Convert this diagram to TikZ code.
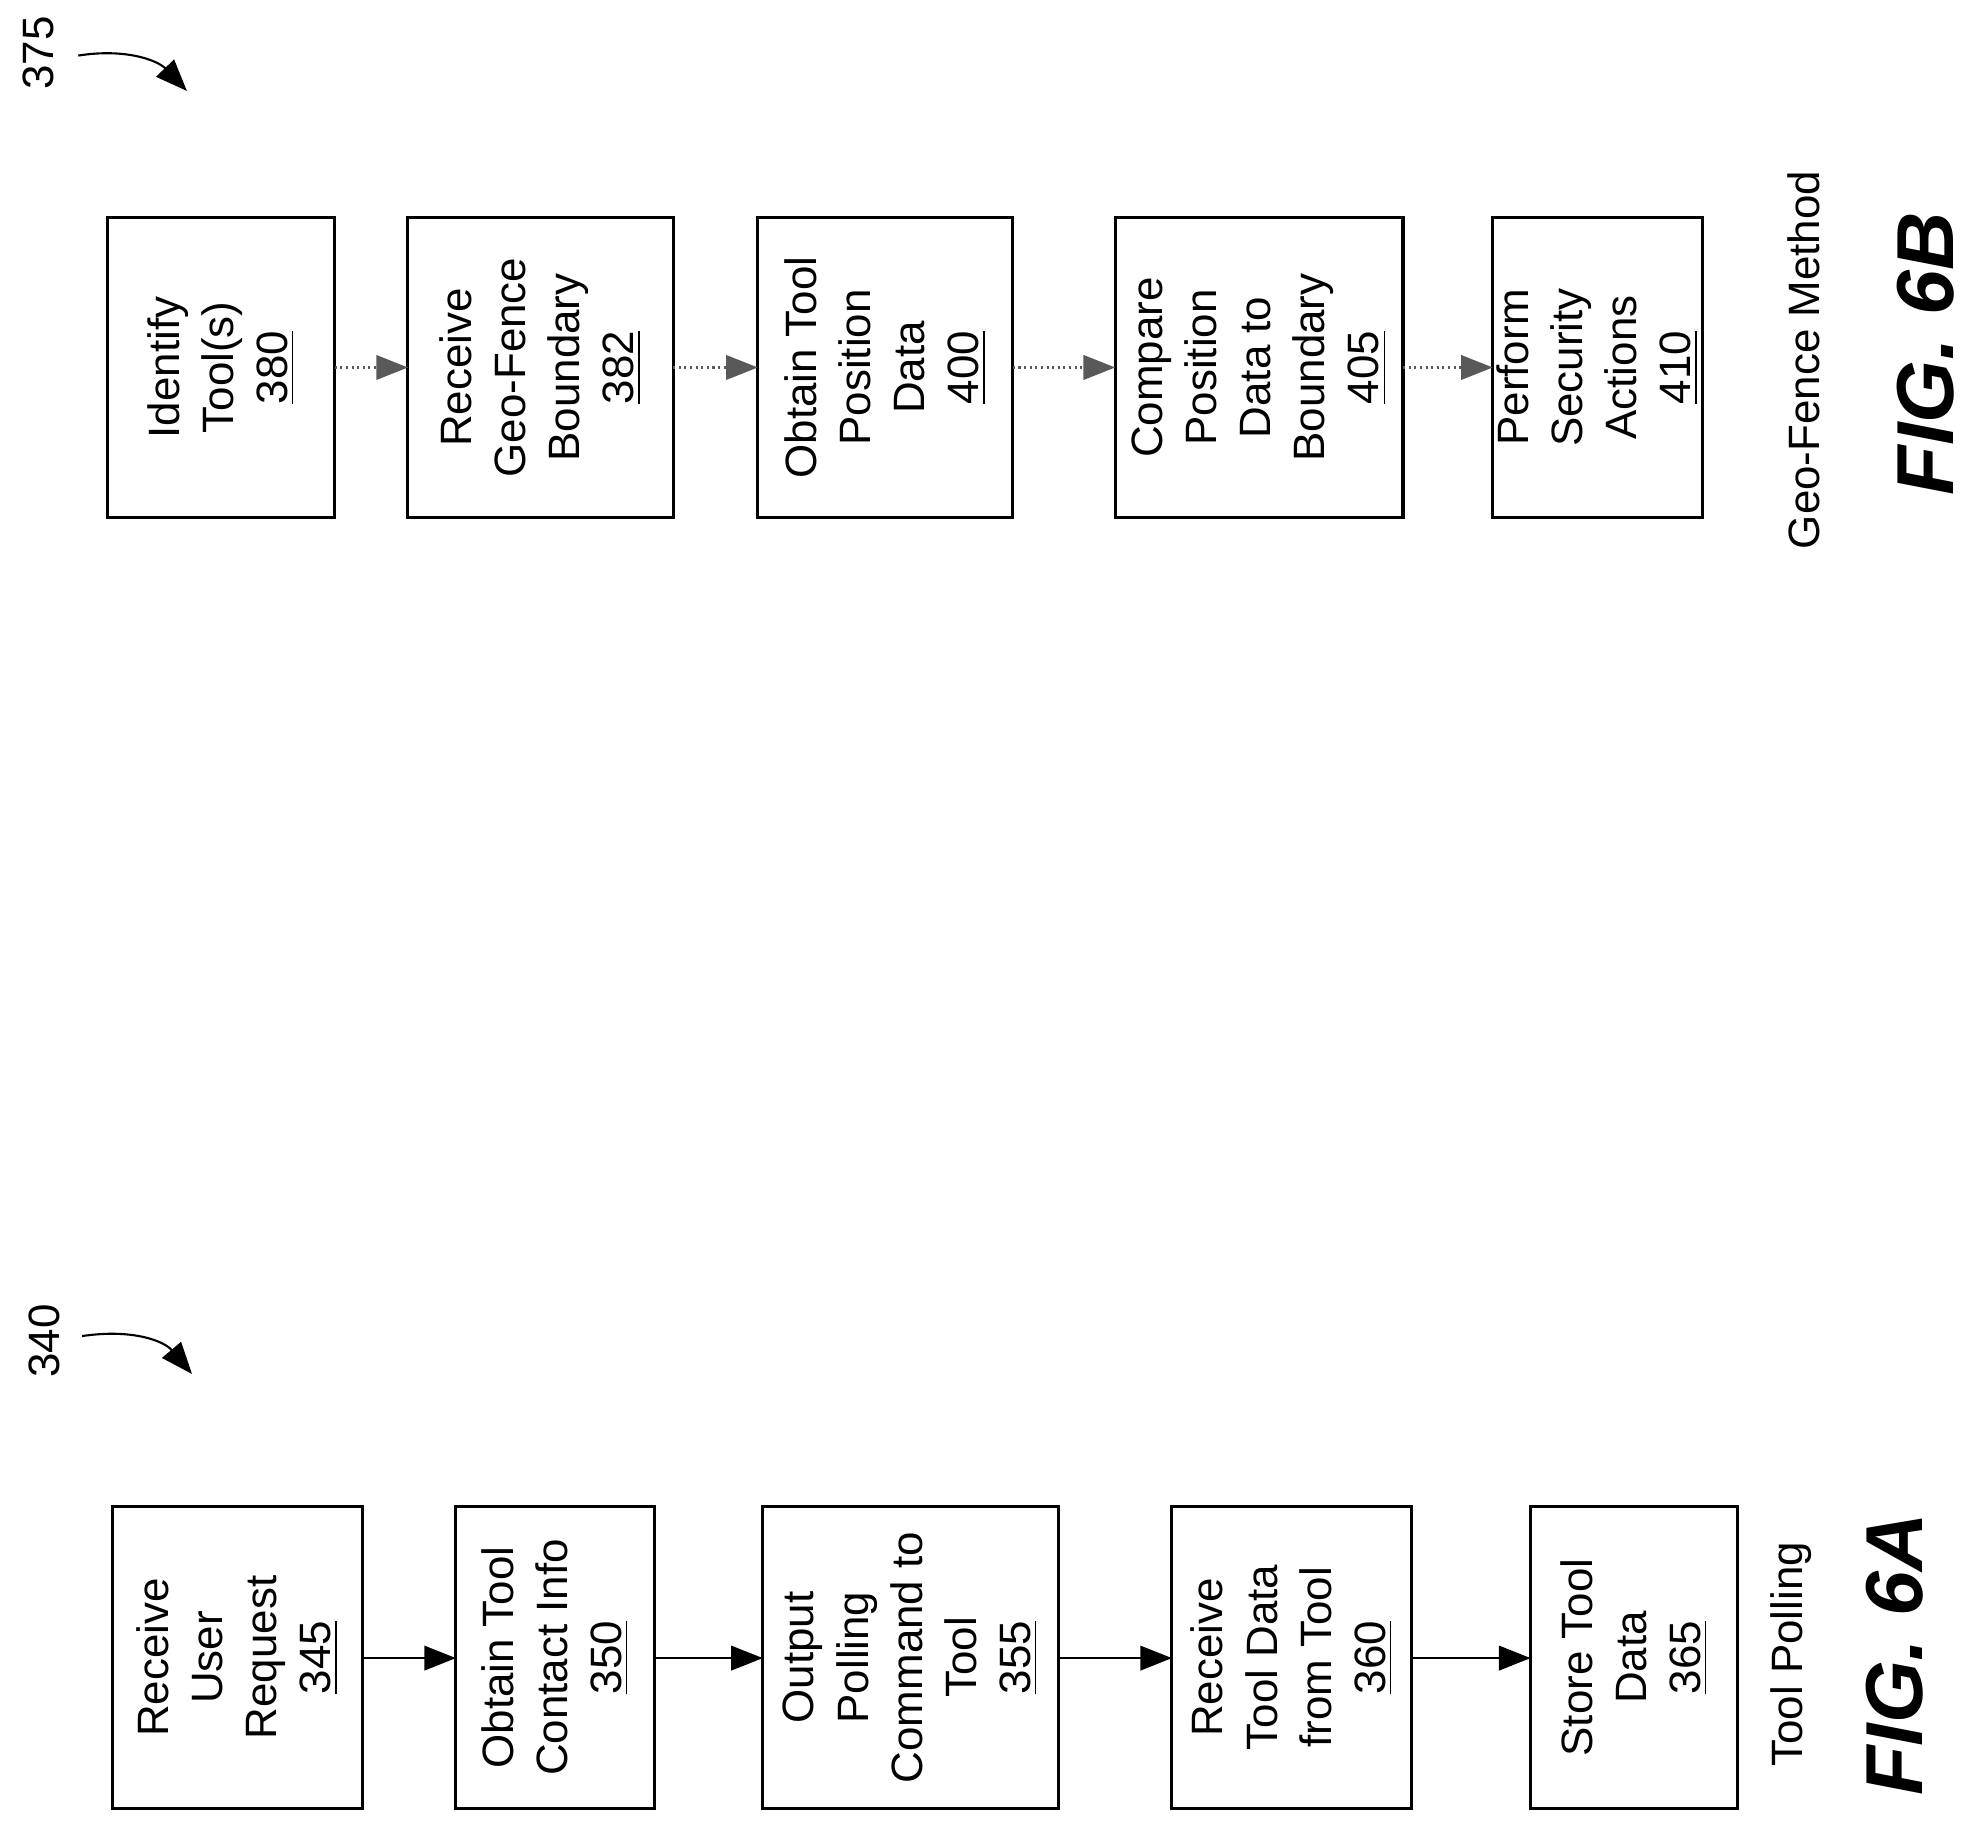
\documentclass[tikz,border=0pt]{standalone}
\usepackage{fontspec}
\setmainfont{Liberation Sans}
\usetikzlibrary{arrows.meta}
\begin{document}
\begin{tikzpicture}[x=0.01263cm,y=-0.01263cm,
  box/.style={draw,line width=0.9pt,inner sep=0pt},
  lbl/.style={rotate=90,align=center,font=\fontsize{12.5}{15.4}\selectfont},
  arr/.style={-{Triangle[length=9pt,width=7pt]},line width=0.6pt},
  darr/.style={arr,gray!70!black,densely dotted}]
\useasboundingbox (0,0) rectangle (1560,1443);
% FIG 6A boxes
\foreach \n/\a/\b/\t in {a345/89/287/{Receive\\User\\Request\\\underline{345}},
  a350/361/518/{Obtain Tool\\Contact Info\\\underline{350}},
  a355/604/838/{Output\\Polling\\Command to\\Tool\\\underline{355}},
  a360/928/1118/{Receive\\Tool Data\\from Tool\\\underline{360}},
  a365/1212/1376/{Store Tool\\Data\\\underline{365}}}{
  \draw[box] (\a,1193) rectangle (\b,1432);
  \node[lbl] (\n) at ({(\a+\b)/2},1312.5) {\t};
  \coordinate (\n L) at (\a,1313); \coordinate (\n R) at (\b,1313);
}
\draw[arr] (a345R) -- (a350L);
\draw[arr] (a350R) -- (a355L);
\draw[arr] (a355R) -- (a360L);
\draw[arr] (a360R) -- (a365L);
\node[rotate=90,font=\fontsize{12.5}{15}\selectfont] (tp) at (1418,1310) {Tool Polling};
\node[rotate=90,font=\fontsize{23}{26}\bfseries\itshape\selectfont] (f6a) at (1500,1310) {FIG. 6A};
\node[rotate=90,font=\fontsize{12.5}{15}\selectfont] (l340) at (35,1062) {340};
\coordinate (s340) at (65,1058);
\coordinate (e340) at (152,1088);
\draw[arr] (s340) .. controls (105,1052) and (130,1062) .. (e340);
% FIG 6B boxes
\foreach \n/\a/\b/\t in {b380/85/265/{Identify\\Tool(s)\\\underline{380}},
  b382/323/533/{Receive\\Geo-Fence\\Boundary\\\underline{382}},
  b400/600/802/{Obtain Tool\\Position\\Data\\\underline{400}},
  b405/883/1111/{Compare\\Position\\Data to\\Boundary\\\underline{405}},
  b410/1182/1348/{Perform\\Security\\Actions\\\underline{410}}}{
  \draw[box] (\a,172) rectangle (\b,410);
  \node[lbl] (\n) at ({(\a+\b)/2},291) {\t};
  \coordinate (\n L) at (\a,291); \coordinate (\n R) at (\b,291);
}
\draw[darr] (b380R) -- (b382L);
\draw[darr] (b382R) -- (b400L);
\draw[darr] (b400R) -- (b405L);
\draw[darr] (b405R) -- (b410L);
\node[rotate=90,font=\fontsize{12.5}{15}\selectfont] (gf) at (1428,285) {Geo-Fence Method};
\node[rotate=90,font=\fontsize{23}{26}\bfseries\itshape\selectfont] (f6b) at (1525,280) {FIG. 6B};
\node[rotate=90,font=\fontsize{12.5}{15}\selectfont] (l375) at (30,42) {375};
\coordinate (s375) at (62,44);
\coordinate (e375) at (148,72);
\draw[arr] (s375) .. controls (100,38) and (125,48) .. (e375);
\end{tikzpicture}
\end{document}
